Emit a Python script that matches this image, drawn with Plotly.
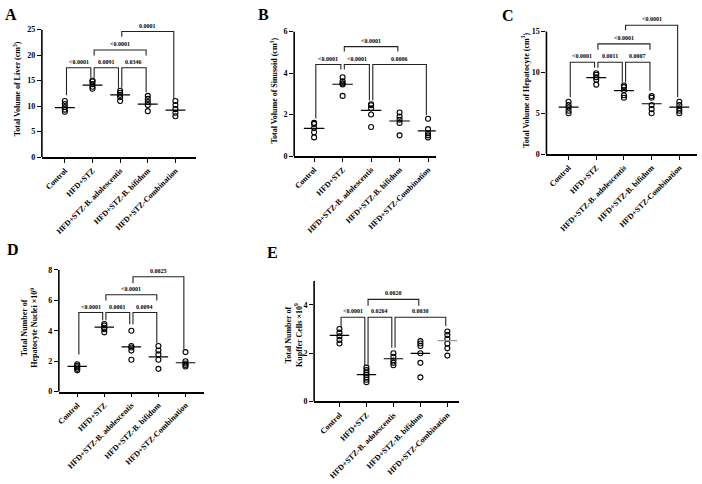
import plotly.graph_objects as go

W, H = 702, 484

groups = ["Control", "HFD+STZ", "HFD+STZ-B. adolescentis", "HFD+STZ-B. bifidum", "HFD+STZ-Combination"]

# Panel A: liver volume (cm3)
liver_vals = [[8.9, 9.3, 9.8, 10.4, 11.0], [13.4, 13.8, 14.3, 14.8, 15.0],
              [11.0, 11.8, 12.2, 12.6, 13.0], [9.0, 10.2, 10.8, 11.4, 12.0],
              [8.0, 8.7, 9.4, 10.2, 11.0]]
liver_mean = [9.7, 14.1, 12.2, 10.4, 9.2]
liver_brackets = [(0, 1, 17.5, 12.1, 15.6, "<0.0001"), (1, 2, 17.5, 15.6, 13.6, "0.0091"),
                  (2, 3, 17.5, 13.6, 12.7, "0.0346"), (1, 3, 21.0, 19.9, 19.9, "<0.0001"),
                  (2, 4, 24.6, 23.6, 11.4, "0.0001")]

# Panel B: sinusoid volume (cm3)
sinus_vals = [[0.9, 1.15, 1.35, 1.55, 1.6], [2.9, 3.45, 3.5, 3.6, 3.8],
              [1.4, 2.0, 2.3, 2.45, 2.5], [1.0, 1.6, 1.75, 1.9, 2.1],
              [0.9, 1.0, 1.1, 1.3, 1.8]]
sinus_mean = [1.34, 3.46, 2.2, 1.69, 1.22]
sinus_brackets = [(0, 1, 4.41, 1.81, 4.17, "<0.0001"), (1, 2, 4.41, 4.17, 2.68, "<0.0001"),
                  (2, 4, 4.41, 2.68, 1.97, "0.0006"), (1, 3, 5.27, 5.04, 5.04, "<0.0001")]

# Panel C: hepatocyte volume (cm3)
hep_vals = [[5.0, 5.3, 5.7, 6.0, 6.4], [8.5, 9.1, 9.4, 9.7, 9.9],
            [6.9, 7.2, 7.8, 8.2, 8.4], [5.0, 5.5, 6.0, 6.9, 7.1],
            [5.0, 5.3, 5.6, 6.0, 6.4]]
hep_mean = [5.76, 9.36, 7.76, 6.16, 5.76]
hep_brackets = [(0, 1, 11.24, 6.96, 10.56, "<0.0001"), (1, 2, 11.24, 10.56, 8.76, "0.0011"),
                (2, 3, 11.24, 8.76, 7.76, "0.0007"), (1, 3, 13.48, 12.76, 12.76, "<0.0001"),
                (2, 4, 15.76, 15.16, 6.96, "<0.0001")]

# Panel D: hepatocyte nuclei (x10^9)
nuc_vals = [[1.4, 1.5, 1.6, 1.7, 1.8], [3.9, 4.1, 4.2, 4.35, 4.45],
            [2.1, 2.7, 2.9, 3.0, 4.0], [1.5, 2.1, 2.45, 2.7, 3.0],
            [1.65, 1.75, 1.85, 2.0, 2.6]]
nuc_mean = [1.66, 4.24, 2.95, 2.28, 1.9]
nuc_brackets = [(0, 1, 5.2, 2.45, 4.7, "<0.0001"), (1, 2, 5.2, 4.7, 4.43, "0.0001"),
                (2, 3, 5.2, 4.43, 3.2, "0.0094"), (1, 3, 6.37, 6.0, 6.0, "<0.0001"),
                (2, 4, 7.55, 7.12, 2.77, "0.0025")]

# Panel E: Kupffer cells (x10^9)
kup_vals = [[2.4, 2.55, 2.7, 2.85, 3.0], [0.8, 0.9, 1.0, 1.1, 1.2, 1.3, 1.4],
            [1.5, 1.6, 1.7, 1.85, 2.0], [1.0, 1.6, 2.0, 2.3, 2.4, 2.5],
            [1.9, 2.2, 2.4, 2.6, 2.75, 2.9]]
kup_mean = [2.74, 1.11, 1.77, 1.99, 2.52]
kup_brackets = [(0, 1, 3.49, 3.06, 1.48, "<0.0001"), (1, 2, 3.49, 1.48, 2.23, "0.0264"),
                (2, 4, 3.49, 2.23, 3.13, "0.0030"), (1, 3, 4.23, 3.96, 3.96, "0.0020")]

# box = (x-axis left px, x-axis right px, y px of 'ylen' top value, y px of zero)
panels = [
    dict(vals=liver_vals, mean=liver_mean, br=liver_brackets, ytop=25, ymax=25, yticks=[0, 5, 10, 15, 20, 25],
         box=(40, 195, 26, 156), xr=[-0.83, 4.76], letter="A", lpos=(9, 11),
         title="Total Volume of Liver (cm<sup>3</sup>)", tpos=(15, 86)),
    dict(vals=sinus_vals, mean=sinus_mean, br=sinus_brackets, ytop=6, ymax=6, yticks=[0, 2, 4, 6],
         box=(293, 435, 28, 155), xr=[-0.7, 4.27], letter="B", lpos=(262, 11),
         title="Total Volume of Sinusoid (cm<sup>3</sup>)", tpos=(273, 88)),
    dict(vals=hep_vals, mean=hep_mean, br=hep_brackets, ytop=15, ymax=16.6, yticks=[0, 5, 10, 15],
         box=(546, 697, 28, 153), xr=[-0.8, 4.64], letter="C", lpos=(507, 12),
         title="Total Volume of Hepatocyte (cm<sup>3</sup>)", tpos=(525, 88)),
    dict(vals=nuc_vals, mean=nuc_mean, br=nuc_brackets, ytop=8, ymax=8, yticks=[0, 2, 4, 6, 8],
         box=(57, 203, 271, 395), xr=[-0.68, 4.7], letter="D", lpos=(11, 250),
         title="Total Number of<br>Hepatocyte Nuclei ×10<sup>9</sup>", tpos=(28, 330)),
    dict(vals=kup_vals, mean=kup_mean, br=kup_brackets, ytop=5, ymax=5, yticks=[0, 2, 4],
         box=(313, 458, 282, 405), xr=[-0.94, 4.42], letter="E", lpos=(271, 253),
         title="Total Number of<br>Kupffer Cells ×10<sup>9</sup>", tpos=(293, 337)),
]

SERIF = "Liberation Serif"
fig = go.Figure()
layout = dict(width=W, height=H, margin=dict(l=0, r=0, t=0, b=0),
              paper_bgcolor="white", plot_bgcolor="white", showlegend=False)
annotations = []
shapes = []

for k, p in enumerate(panels, start=1):
    xa = "x" if k == 1 else f"x{k}"
    ya = "y" if k == 1 else f"y{k}"
    x0, x1, t, b = p["box"]
    # pixel per unit from the visible axis top; extend domain if range goes higher
    ppu = (b - t) / p["ytop"]
    t_ext = b - ppu * p["ymax"]
    layout[f"xaxis{'' if k == 1 else k}"] = dict(
        domain=[x0 / W, x1 / W], anchor=ya, range=p["xr"],
        tickvals=list(range(5)), ticktext=groups, tickangle=-45,
        showline=True, linecolor="black", linewidth=1.6, ticks="outside", ticklen=4,
        tickwidth=1.4, tickcolor="black", showgrid=False, zeroline=False,
        tickfont=dict(family=SERIF, size=8, color="black", weight="bold"))
    layout[f"yaxis{'' if k == 1 else k}"] = dict(
        domain=[1 - b / H, 1 - t_ext / H], anchor=xa, range=[0, p["ymax"]], tickvals=p["yticks"],
        showline=False, ticks="outside", ticklen=4,
        tickwidth=1.4, tickcolor="black", showgrid=False, zeroline=False,
        tickfont=dict(family=SERIF, size=8, color="black", weight="bold"))
    # y axis line from 0 to the visible top
    shapes.append(dict(type="line", xref="paper", yref=ya, x0=x0 / W, x1=x0 / W, y0=0, y1=p["ytop"],
                       line=dict(color="black", width=1.6), layer="above"))

    # points
    px, py = [], []
    for i, vs in enumerate(p["vals"]):
        px += [i] * len(vs)
        py += vs
    fig.add_trace(go.Scatter(x=px, y=py, xaxis=xa, yaxis=ya, mode="markers", cliponaxis=False,
                             marker=dict(symbol="circle-open", size=5, color="black",
                                         line=dict(width=1.1, color="black"))))
    # mean lines
    for i, m in enumerate(p["mean"]):
        col = "#9a9a9a" if (k == 5 and i == 4) else "black"
        fig.add_trace(go.Scatter(x=[i - 0.36, i + 0.36], y=[m, m], xaxis=xa, yaxis=ya,
                                 mode="lines", cliponaxis=False, line=dict(color=col, width=1.2)))
    # brackets
    for (i, j, top, le, re, lab) in p["br"]:
        d = 0.06
        fig.add_trace(go.Scatter(x=[i + d, i + d, j - d, j - d], y=[le, top, top, re],
                                 xaxis=xa, yaxis=ya, mode="lines", cliponaxis=False,
                                 line=dict(color="#222", width=1.1)))
        annotations.append(dict(x=(i + j) / 2, y=top, xref=xa, yref=ya, text=lab, showarrow=False,
                                yanchor="bottom", yshift=1,
                                font=dict(family=SERIF, size=6, color="black", weight="bold")))
    # panel letter
    lx, ly = p["lpos"]
    annotations.append(dict(x=lx / W, y=1 - ly / H, xref="paper", yref="paper", text=p["letter"],
                            showarrow=False, xanchor="center", yanchor="middle",
                            font=dict(family=SERIF, size=16, color="black", weight="bold")))
    # y title
    tx, ty = p["tpos"]
    annotations.append(dict(x=tx / W, y=1 - ty / H, xref="paper", yref="paper", text=p["title"],
                            showarrow=False, textangle=-90, xanchor="center", yanchor="middle",
                            font=dict(family=SERIF, size=8, color="black", weight="bold")))

layout["annotations"] = annotations
layout["shapes"] = shapes
fig.update_layout(**layout)
fig.write_html("out.html")
